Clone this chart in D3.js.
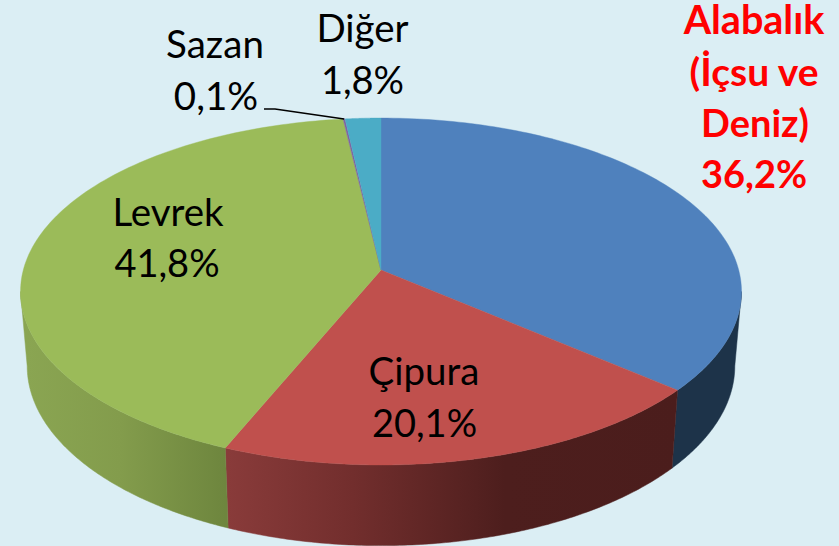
<!DOCTYPE html>
<html><head><meta charset="utf-8">
<script src="https://cdn.jsdelivr.net/npm/d3@7"></script>
<style>html,body{margin:0;padding:0;background:#dbeef4}svg{display:block}</style>
</head><body><svg id="c" width="839" height="546"></svg>
<script>
const categories = ["Alabalık (İçsu ve Deniz)", "Çipura", "Levrek", "Sazan", "Diğer"];
const values = [36.2, 20.1, 41.8, 0.1, 1.8];
const topColors = ["#4f81bd", "#c0504d", "#9bbb59", "#8064a2", "#4bacc6"];
const valueLabels = ["36,2%", "20,1%", "41,8%", "0,1%", "1,8%"];

const svg = d3.select("#c");
const cx = 381, cy = 270, R = 357.7, K = 170.8, P = -0.124;
const shrink = 0.0185;
const project = a => {
  const u = Math.sin(a), v = -Math.cos(a), w = 1 + P * v;
  return [cx + R * u / w, cy + K * v / w];
};
const projectLow = a => {
  const [x, y] = project(a);
  return [cx + (x - cx) * (1 - shrink), y + 80 + (y - 447) / 28];
};
const arcs = d3.pie().sort(null).value(d => d)(values);
const color = d3.scaleOrdinal(categories, topColors);
const line = d3.line();
const samples = (a0, a1, f) => d3.range(0, 121).map(i => f(a0 + (a1 - a0) * i / 120));

const defs = svg.append("defs");
const grad = (id, stops) => {
  const g = defs.append("linearGradient").attr("id", id)
    .attr("gradientUnits", "userSpaceOnUse")
    .attr("x1", 0).attr("x2", 839).attr("y1", 0).attr("y2", 0);
  stops.forEach(([o, c]) => g.append("stop").attr("offset", o / 839).attr("stop-color", c));
};
grad("side0", [[0, "#1d3349"], [839, "#1d3349"]]);
grad("side1", [[228, "#893b3a"], [353, "#722e2d"], [505, "#4d1e1d"], [680, "#4b1d1c"]]);
grad("side2", [[27, "#8aa552"], [120, "#839c4c"], [225, "#6e863e"]]);

const visA = Math.acos(P), visB = 2 * Math.PI - visA;
arcs.forEach((d, i) => {
  const a0 = Math.max(d.startAngle, visA), a1 = Math.min(d.endAngle, visB);
  if (a1 <= a0) return;
  const pts = samples(a0, a1, project).concat(samples(a0, a1, projectLow).reverse());
  svg.append("path").attr("d", line(pts) + "Z")
    .attr("fill", `url(#side${i})`).attr("stroke", `url(#side${i})`).attr("stroke-width", 0.5);
});

arcs.forEach((d, i) => {
  const pts = [[cx, cy]].concat(samples(d.startAngle, d.endAngle, project));
  svg.append("path").attr("d", line(pts) + "Z")
    .attr("fill", color(categories[i]))
    .attr("stroke", color(categories[i])).attr("stroke-width", 0.4);
});

const sazanMid = (arcs[3].startAngle + arcs[3].endAngle) / 2;
svg.append("path").attr("fill", "none").attr("stroke", "#000").attr("stroke-width", 1.6)
  .attr("d", line([[264, 109], [275, 109], project(sazanMid)]));

const text = (x, y, s, size, bold, fill) => svg.append("text")
  .attr("x", x).attr("y", y).attr("text-anchor", "middle")
  .attr("font-family", "Lato, 'Open Sans', sans-serif").attr("font-size", size)
  .attr("font-weight", bold ? 700 : 400).attr("fill", fill).text(s);

text(168, 226, categories[2], 38.5); text(167, 277, valueLabels[2], 38);
text(424, 385, categories[1], 38.5); text(424.5, 437, valueLabels[1], 38);
text(215, 58, categories[3], 38.5); text(216, 110, valueLabels[3], 38.5);
text(362.5, 42, categories[4], 38.5); text(362.5, 94, valueLabels[4], 38);
[["Alabalık", 754, 34, 39.5], ["(İçsu ve", 754, 86, 39], ["Deniz)", 755, 137, 38]].forEach(([s, x, y, f]) =>
  text(x, y, s, f, true, "#ff0000"));
text(754, 188, valueLabels[0], 38, true, "#ff0000");
</script></body></html>
